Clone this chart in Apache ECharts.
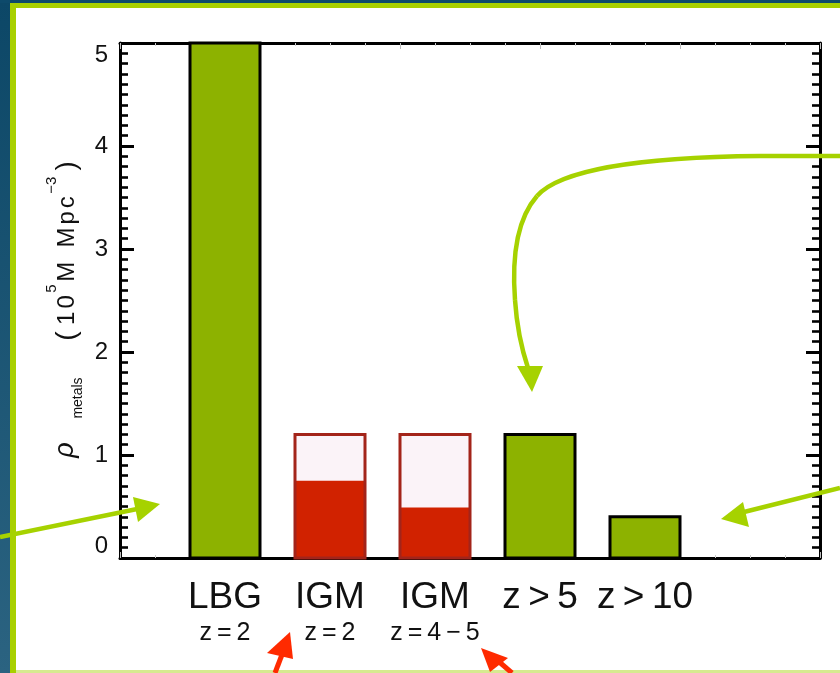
<!DOCTYPE html>
<html><head><meta charset="utf-8">
<script src="https://cdn.jsdelivr.net/npm/echarts@6/dist/echarts.min.js"></script>
<style>html,body{margin:0;padding:0;background:#fff}#c{width:840px;height:673px}</style>
</head><body><div id="c"></div>
<script>
// ---- data ----
const categories = ['LBG', 'IGM', 'IGM', 'z\u2009>\u20095', 'z\u2009>\u200910'];
const subLabels = ['z\u2009=\u20092', 'z\u2009=\u20092', 'z\u2009=\u20094\u2009\u2212\u20095', '', ''];
const totalValues = [5.0, 1.2, 1.2, 1.2, 0.40];
const filledValues = [5.0, 0.75, 0.49, 1.2, 0.40];
const barKinds = ['galaxy', 'igm', 'igm', 'galaxy', 'galaxy'];
const yTickLabels = ['0', '1', '2', '3', '4', '5'];

// ---- styles ----
const FONT = 'Liberation Sans';
const GREEN_BAR = '#8db200';
const RED_BAR = '#d12200';
const LIGHT_BAR = '#fbf3f8';
const IGM_EDGE = '#a3241a';
const ARROW_GREEN = '#a6d200';
const ARROW_RED = '#ff2a00';

const seriesData = categories.map((c, i) => [i + 1, totalValues[i], filledValues[i], barKinds[i] === 'igm' ? 1 : 0]);

const chart = echarts.init(document.getElementById('c'), null, {renderer: 'canvas'});

function renderBar(params, api) {
  const x = api.value(0), tot = api.value(1), fil = api.value(2), kind = api.value(3);
  const base = api.coord([x, 0]);
  const top = api.coord([x, tot]);
  const mid = api.coord([x, fil]);
  const w = api.size([2 / 3, 0])[0];
  const left = base[0] - w / 2;
  const children = [];
  if (kind === 1) {
    children.push({type: 'rect', shape: {x: left, y: top[1], width: w, height: base[1] - top[1]}, style: {fill: LIGHT_BAR}});
    children.push({type: 'rect', shape: {x: left, y: mid[1], width: w, height: base[1] - mid[1]}, style: {fill: RED_BAR}});
    children.push({type: 'rect', shape: {x: left, y: top[1], width: w, height: base[1] - top[1]}, style: {fill: 'none', stroke: IGM_EDGE, lineWidth: 3}});
  } else {
    children.push({type: 'rect', shape: {x: left, y: top[1], width: w, height: base[1] - top[1]}, style: {fill: GREEN_BAR, stroke: '#000', lineWidth: 3}});
  }
  return {type: 'group', children};
}

const yAxisCommon = {
  type: 'value', min: 0, max: 5, interval: 1,
  axisLine: {show: true, onZero: false, lineStyle: {color: '#000', width: 3}},
  axisTick: {show: true, inside: true, length: 14, lineStyle: {color: '#000', width: 3}},
  minorTick: {show: true, splitNumber: 10, length: 8, lineStyle: {color: '#000', width: 2.6}},
  splitLine: {show: false}
};

const faintX = {
  type: 'value', min: 0, max: 20, interval: 4,
  axisTick: {show: true, inside: true, length: 6, lineStyle: {color: '#bdbdbd', width: 1}},
  minorTick: {show: true, splitNumber: 4, length: 3, lineStyle: {color: '#cccccc', width: 1}},
  axisLabel: {show: false}, splitLine: {show: false}
};

const G = {stroke: ARROW_GREEN, lineWidth: 4.5, fill: null};

const option = {
  backgroundColor: '#fff',
  animation: false,
  grid: {left: 120, right: 20, top: 43, bottom: 115},
  xAxis: [
    {
      type: 'value', min: 0, max: 20 / 3, interval: 1, position: 'bottom',
      axisLine: {show: true, onZero: false, lineStyle: {color: '#000', width: 3}},
      axisTick: {show: false}, splitLine: {show: false},
      axisLabel: {
        showMaxLabel: false, showMinLabel: false, margin: 20,
        formatter: v => {
          const i = Math.round(v) - 1;
          if (i < 0 || i >= categories.length) return '';
          return '{m|' + categories[i] + '}\n{s|' + (subLabels[i] || ' ') + '}';
        },
        rich: {
          m: {fontFamily: FONT, fontSize: 37, color: '#111', lineHeight: 40, align: 'center'},
          s: {fontFamily: FONT, fontSize: 25, color: '#111', lineHeight: 30, align: 'center'}
        }
      }
    },
    Object.assign({position: 'bottom', axisLine: {show: false, onZero: false}}, faintX),
    Object.assign({position: 'top', axisLine: {show: true, onZero: false, lineStyle: {color: '#000', width: 3}}}, faintX)
  ],
  yAxis: [
    Object.assign({}, yAxisCommon, {
      position: 'left',
      axisLabel: {
        show: true, margin: 12, fontFamily: FONT, fontSize: 24, color: '#111',
        verticalAlignMaxLabel: 'top', verticalAlignMinLabel: 'bottom',
        formatter: v => yTickLabels[Math.round(v)]
      }
    }),
    Object.assign({}, yAxisCommon, {position: 'right', axisLabel: {show: false}})
  ],
  series: [{
    type: 'custom', xAxisIndex: 0, yAxisIndex: 0,
    renderItem: renderBar, data: seriesData, z: 3
  }],
  graphic: [
    // frame
    {type: 'rect', z: 0, silent: true, shape: {x: 0, y: 0, width: 10, height: 673},
      style: {fill: new echarts.graphic.LinearGradient(0, 0, 0, 1, [{offset: 0, color: '#0c4767'}, {offset: 1, color: '#2b6381'}])}},
    {type: 'rect', z: 0, silent: true, shape: {x: 0, y: 0, width: 840, height: 3}, style: {fill: '#0d4a6b'}},
    {type: 'rect', z: 0, silent: true, shape: {x: 10, y: 3, width: 6, height: 670}, style: {fill: '#a8d000'}},
    {type: 'rect', z: 0, silent: true, shape: {x: 10, y: 3, width: 830, height: 5}, style: {fill: '#a8d000'}},
    {type: 'rect', z: 0, silent: true, shape: {x: 16, y: 670, width: 824, height: 3}, style: {fill: '#d6ea90'}},
    // y-axis title
    {type: 'text', z: 10, x: 65, y: 450, rotation: Math.PI / 2,
      style: {text: '\u03C1', fontFamily: FONT, fontStyle: 'italic', fontSize: 27, fill: '#111', align: 'center', verticalAlign: 'middle'}},
    {type: 'text', z: 10, x: 78, y: 398, rotation: Math.PI / 2,
      style: {text: 'metals', fontFamily: FONT, fontSize: 14, fill: '#111', align: 'center', verticalAlign: 'middle'}},
    {type: 'text', z: 10, x: 67, y: 251, rotation: Math.PI / 2,
      style: {
        text: '{p|(}{n|1}{n|0}{s|5}{n|M}{g| }{n|M}{n|p}{n|c}{s|\u22123}{p|)}',
        align: 'center', verticalAlign: 'middle', fill: '#111',
        rich: {
          p: {fontFamily: FONT, fontSize: 28, lineHeight: 46, padding: [0, 5], verticalAlign: 'middle'},
          n: {fontFamily: FONT, fontSize: 24, lineHeight: 46, padding: [0, 1.5], verticalAlign: 'middle'},
          g: {fontFamily: FONT, fontSize: 12, lineHeight: 46, padding: [0, 4]},
          s: {fontFamily: FONT, fontSize: 15, lineHeight: 15, padding: [0, 1], verticalAlign: 'top'}
        }
      }},
    // green arrows
    {type: 'line', z: 20, shape: {x1: 0, y1: 537, x2: 142, y2: 508}, style: {stroke: ARROW_GREEN, lineWidth: 4.5}},
    {type: 'polygon', z: 20, shape: {points: [[133, 497], [138, 522], [160, 504]]}, style: {fill: ARROW_GREEN}},
    {type: 'line', z: 20, shape: {x1: 840, y1: 488, x2: 740, y2: 513}, style: {stroke: ARROW_GREEN, lineWidth: 4.5}},
    {type: 'polygon', z: 20, shape: {points: [[743, 502], [749, 527], [721, 519]]}, style: {fill: ARROW_GREEN}},
    {type: 'line', z: 20, shape: {x1: 840, y1: 156, x2: 760, y2: 156}, style: G},
    {type: 'bezierCurve', z: 20, shape: {x1: 760, y1: 156, cpx1: 640, cpy1: 157, cpx2: 560, cpy2: 170, x2: 537, y2: 196}, style: G},
    {type: 'bezierCurve', z: 20, shape: {x1: 537, y1: 196, cpx1: 516, cpy1: 220, cpx2: 512, cpy2: 260, x2: 515, y2: 300}, style: G},
    {type: 'bezierCurve', z: 20, shape: {x1: 515, y1: 300, cpx1: 517, cpy1: 330, cpx2: 522, cpy2: 350, x2: 528, y2: 368}, style: G},
    {type: 'polygon', z: 20, shape: {points: [[517, 366], [543, 366], [532, 392]]}, style: {fill: ARROW_GREEN}},
    // red arrows
    {type: 'line', z: 20, shape: {x1: 275, y1: 673, x2: 283, y2: 652}, style: {stroke: ARROW_RED, lineWidth: 5}},
    {type: 'polygon', z: 20, shape: {points: [[267, 653], [293, 659], [290, 632]]}, style: {fill: ARROW_RED}},
    {type: 'line', z: 20, shape: {x1: 512, y1: 673, x2: 497, y2: 660}, style: {stroke: ARROW_RED, lineWidth: 5}},
    {type: 'polygon', z: 20, shape: {points: [[481, 648], [508, 658], [490, 672]]}, style: {fill: ARROW_RED}}
  ]
};
chart.setOption(option);
</script>
</body></html>
